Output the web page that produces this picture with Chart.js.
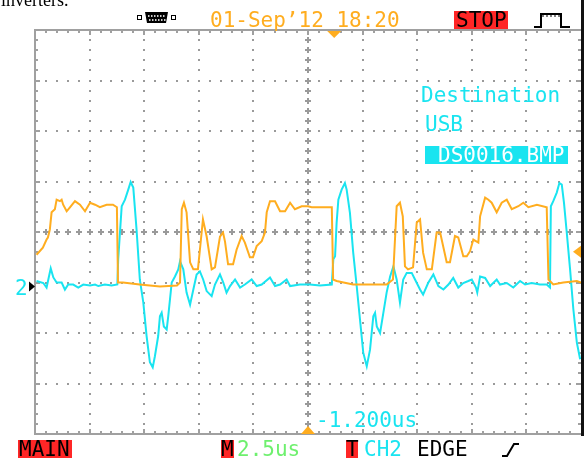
<!DOCTYPE html>
<html>
<head>
<meta charset="utf-8">
<script src="https://cdn.jsdelivr.net/npm/chart.js"></script>
<style>
body { margin: 0; background: #fff; }
#wrap { position: relative; width: 585px; height: 458px; }
</style>
</head>
<body>
<div id="wrap"><canvas id="scope" width="585" height="458"></canvas></div>
<script>
// time in us from screen centre, level in divisions from screen centre
const ch1Time = [
  -12.43,-12.14,-11.97,-11.91,-11.82,-11.74,-11.59,-11.51,-11.36,-11.28,
  -11.21,-11.05,-10.90,-10.67,-10.44,-10.21,-9.98,-9.75,-9.53,-9.22,
  -8.93,-8.75,-8.70,-8.47,-7.71,-6.78,-6.00,-5.86,-5.78,-5.68,
  -5.56,-5.40,-5.25,-5.04,-4.87,-4.81,-4.64,-4.41,-4.26,-4.03,
  -3.89,-3.80,-3.66,-3.43,-3.27,-3.04,-2.89,-2.66,-2.52,-2.35,
  -2.12,-1.97,-1.89,-1.74,-1.51,-1.28,-1.05,-0.82,-0.60,-0.29,
  0,0.17,1.09,1.15,1.31,2.06,2.69,3.60,3.89,4.06,
  4.21,4.34,4.44,4.58,4.81,4.98,5.13,5.27,5.44,5.67,
  5.89,6.05,6.35,6.50,6.73,6.88,7.11,7.27,7.42,7.57,
  7.80,7.88,8.11,8.26,8.41,8.64,8.87,9.10,9.33,9.63,
  9.86,10.09,10.48,10.93,11.01,11.23,11.69,12.31,12.5
];
const ch1Level = [
  -0.45,-0.31,-0.15,-0.11,0.05,0.39,0.45,0.64,0.61,0.64,
  0.54,0.41,0.49,0.61,0.54,0.41,0.58,0.54,0.49,0.54,
  0.54,0.49,-1.0,-1.0,-1.04,-1.08,-1.06,-1.0,0.45,0.58,
  0.39,-0.60,-0.74,-0.74,-0.01,0.25,-0.09,-0.74,-0.70,-0.09,
  -0.01,-0.19,-0.64,-0.64,-0.35,-0.08,-0.21,-0.50,-0.50,-0.28,
  -0.18,-0.01,0.39,0.61,0.61,0.41,0.41,0.58,0.45,0.51,
  0.51,0.49,0.49,-0.94,-0.97,-1.04,-1.04,-1.04,-0.94,0.51,
  0.58,0.31,-0.68,-0.74,-0.70,0.19,0.25,-0.41,-0.74,-0.74,
  -0.01,-0.01,-0.60,-0.60,-0.08,-0.11,-0.48,-0.48,-0.38,-0.15,
  -0.21,0.31,0.68,0.64,0.58,0.39,0.58,0.64,0.45,0.51,
  0.58,0.49,0.54,0.49,-0.94,-1.04,-1.0,-0.97,-1.0
];
const ch2Time = [
  -12.43,-12.12,-11.97,-11.89,-11.78,-11.66,-11.51,-11.28,-11.13,-10.98,
  -10.75,-10.52,-10.29,-9.98,-9.75,-9.60,-9.30,-8.99,-8.73,-8.69,
  -8.53,-8.38,-8.23,-8.12,-8.00,-7.85,-7.70,-7.54,-7.39,-7.24,
  -7.11,-7.01,-6.86,-6.78,-6.70,-6.60,-6.47,-6.40,-6.24,-6.09,
  -5.94,-5.86,-5.71,-5.56,-5.40,-5.25,-5.10,-4.95,-4.80,-4.64,
  -4.41,-4.26,-4.03,-3.88,-3.73,-3.57,-3.34,-3.11,-2.89,-2.58,
  -2.35,-2.12,-1.74,-1.51,-1.28,-0.98,-0.82,-0.37,0.09,0.55,
  1.09,1.16,1.24,1.31,1.39,1.54,1.69,1.77,1.92,2.07,
  2.23,2.38,2.53,2.69,2.84,2.99,3.07,3.15,3.30,3.45,
  3.60,3.76,3.91,4.06,4.21,4.36,4.52,4.75,4.90,5.13,
  5.27,5.50,5.74,5.97,6.20,6.43,6.65,6.88,7.11,7.34,
  7.50,7.69,7.75,7.88,8.11,8.34,8.64,8.79,9.10,9.40,
  9.71,9.94,10.24,10.62,10.93,11.08,11.12,11.23,11.39,11.51,
  11.62,11.72,11.85,12.00,12.15,12.31,12.46
];
const ch2Level = [
  -0.97,-1.01,-1.10,-0.94,-0.72,-0.90,-1.0,-1.0,-1.14,-1.04,
  -1.04,-1.10,-1.04,-1.06,-1.04,-1.07,-1.04,-1.06,-1.04,-0.54,
  0.51,0.64,0.84,0.99,0.88,0.05,-0.94,-1.40,-2.06,-2.58,
  -2.68,-2.46,-2.06,-1.67,-1.60,-1.87,-1.93,-1.67,-1.0,-0.88,
  -0.74,-0.58,-0.74,-1.20,-1.44,-1.14,-0.84,-0.78,-0.94,-1.17,
  -1.27,-1.04,-0.84,-1.0,-1.20,-1.07,-0.94,-1.10,-1.04,-0.94,
  -1.07,-1.04,-0.90,-1.07,-1.04,-0.94,-1.07,-1.04,-1.04,-1.06,
  -1.04,-0.54,-0.48,0.18,0.64,0.84,0.97,0.84,0.38,-0.41,
  -1.07,-1.73,-2.39,-2.66,-2.33,-1.67,-1.60,-1.87,-2.00,-1.60,
  -1.20,-0.88,-0.68,-0.94,-1.40,-0.94,-0.81,-0.81,-0.94,-1.14,
  -1.24,-1.01,-0.84,-1.07,-1.14,-1.04,-0.91,-1.10,-1.01,-0.97,
  -0.94,-1.10,-1.20,-0.88,-0.91,-1.07,-0.94,-1.04,-1.01,-1.10,
  -0.97,-1.04,-1.01,-1.04,-1.04,-1.10,0.51,0.61,0.78,0.97,
  0.94,0.58,-0.02,-0.74,-1.53,-2.19,-2.52
];

const timePerDiv = 2.5;       // us/div
const xDivs = 10, yDivs = 8;
const triggerDelay = -1.2;    // us
const triggerLevel = -0.39;   // div
const ch2Ground = -1.08;      // div

const orange = '#ffad1f';
const cyan = '#19e4f0';
const gridGray = '#9a9a9a';
const red = '#ff2626';
const mono = '21px "DejaVu Sans Mono"';

function zip(t, v) {
  return t.map((tt, i) => ({ x: tt, y: v[i] }));
}

const scopeGrid = {
  id: 'scopeGrid',
  beforeDatasetsDraw(chart) {
    const { ctx, chartArea: a, scales: { x, y } } = chart;
    const xMin = -timePerDiv * xDivs / 2;
    const px = k => Math.round(x.getPixelForValue(xMin + k * timePerDiv / 5));
    const py = k => Math.round(y.getPixelForValue(-yDivs / 2 + k / 5));
    ctx.save();
    ctx.fillStyle = gridGray;
    // dotted division lines
    for (let d = 1; d < xDivs; d++) {
      if (d === xDivs / 2) continue;
      for (let k = 1; k < yDivs * 5; k++) ctx.fillRect(px(d * 5) - 1, py(k) - 1, 2, 2);
    }
    for (let r = 1; r < yDivs; r++) {
      if (r === yDivs / 2) continue;
      for (let k = 1; k < xDivs * 5; k++) ctx.fillRect(px(k) - 1, py(r * 5) - 1, 2, 2);
    }
    // centre lines with crosses
    const cx = px(xDivs * 5 / 2), cy = py(yDivs * 5 / 2);
    const cross = (X, Y) => { ctx.fillRect(X - 3, Y - 1, 6, 2); ctx.fillRect(X - 1, Y - 3, 2, 6); };
    for (let k = 1; k < yDivs * 5; k++) cross(cx, py(k));
    for (let k = 1; k < xDivs * 5; k++) cross(px(k), cy);
    // frame and ruler ticks
    ctx.fillStyle = '#a0a0a0';
    ctx.fillRect(a.left - 1, a.top - 1, a.right - a.left + 1, 2);
    ctx.fillRect(a.left - 1, a.bottom - 1, a.right - a.left + 1, 2);
    ctx.fillRect(a.left - 1, a.top - 1, 2, a.bottom - a.top + 2);
    for (let k = 1; k < xDivs * 5; k++) {
      const len = k % 5 === 0 ? 5 : 3;
      ctx.fillRect(px(k) - 1, a.top, 2, len);
      ctx.fillRect(px(k) - 1, a.bottom - len, 2, len);
    }
    for (let k = 1; k < yDivs * 5; k++) {
      const len = k % 5 === 0 ? 5 : 3;
      ctx.fillRect(a.left, py(k) - 1, len, 2);
      ctx.fillRect(a.right - len, py(k) - 1, len, 2);
    }
    ctx.fillStyle = '#111';
    ctx.fillRect(a.right, 0, 3, a.bottom + 2);
    ctx.restore();
  }
};

function boxText(ctx, txt, x, base, color, bg, bx, bw) {
  if (bg) { ctx.fillStyle = bg; ctx.fillRect(bx, base - 16, bw, 18); }
  ctx.fillStyle = color;
  ctx.fillText(txt, x, base);
}

const scopeLabels = {
  id: 'scopeLabels',
  afterDraw(chart) {
    const { ctx, chartArea: a, scales: { x, y } } = chart;
    ctx.save();
    // markers
    ctx.fillStyle = orange;
    const tx = x.getPixelForValue(-triggerDelay);
    ctx.beginPath(); ctx.moveTo(tx - 7, a.top + 1); ctx.lineTo(tx + 7, a.top + 1); ctx.lineTo(tx, a.top + 8); ctx.fill();
    const c0 = x.getPixelForValue(0);
    ctx.beginPath(); ctx.moveTo(c0 - 7, a.bottom); ctx.lineTo(c0 + 7, a.bottom); ctx.lineTo(c0, a.bottom - 8); ctx.fill();
    const ly = y.getPixelForValue(triggerLevel);
    ctx.beginPath(); ctx.moveTo(a.right, ly - 6); ctx.lineTo(a.right, ly + 6); ctx.lineTo(a.right - 8, ly); ctx.fill();
    const gy = y.getPixelForValue(ch2Ground);
    ctx.fillStyle = '#000';
    ctx.beginPath(); ctx.moveTo(a.left - 6, gy - 5); ctx.lineTo(a.left - 6, gy + 5); ctx.lineTo(a.left, gy); ctx.fill();

    ctx.font = mono;
    ctx.textBaseline = 'alphabetic';
    ctx.fillStyle = cyan;
    ctx.fillText('2', 15, gy + 8);

    // top bar
    ctx.fillStyle = orange;
    ctx.fillText('01-Sep\u201912 18:20', 210, 27);
    boxText(ctx, 'STOP', 456, 27, '#000', red, 454, 54);
    // save message
    ctx.fillStyle = cyan;
    ctx.fillText('Destination', 421, 102);
    ctx.fillText('USB', 425, 131);
    boxText(ctx, 'DS0016.BMP', 438, 162, '#fff', cyan, 425, 143);
    ctx.fillStyle = cyan;
    ctx.fillText('-1.200us', 316, 427);
    // bottom bar
    boxText(ctx, 'MAIN', 19, 456, '#000', red, 18, 54);
    boxText(ctx, 'M', 221, 456, '#000', red, 221, 13);
    ctx.fillStyle = '#6ef06e';
    ctx.fillText('2.5us', 237, 456);
    boxText(ctx, 'T', 346, 456, '#000', red, 346, 12);
    ctx.fillStyle = cyan;
    ctx.fillText('CH2', 364, 456);
    ctx.fillStyle = '#000';
    ctx.fillText('EDGE', 417, 456);

    // "inverters." from the page above the screenshot
    ctx.font = '18px "Liberation Serif"';
    ctx.fillText('inverters.', 1, 6);

    // icons
    ctx.strokeStyle = '#000';
    ctx.lineWidth = 2;
    ctx.beginPath();
    ctx.moveTo(502, 456); ctx.lineTo(507, 456); ctx.lineTo(514, 444); ctx.lineTo(519, 444);
    ctx.stroke();
    ctx.beginPath();
    ctx.moveTo(534, 27); ctx.lineTo(541, 27); ctx.lineTo(541, 14); ctx.lineTo(561, 14); ctx.lineTo(561, 27); ctx.lineTo(570, 27);
    ctx.stroke();
    ctx.lineWidth = 1;
    for (let i = 0; i < 5; i++) { ctx.beginPath(); ctx.moveTo(543 + i * 4, 14); ctx.lineTo(543 + i * 4, 17); ctx.stroke(); }
    // connector icon
    ctx.fillStyle = '#000';
    ctx.fillRect(137, 15, 5, 5);
    ctx.fillRect(171, 15, 5, 5);
    ctx.fillStyle = '#fff';
    ctx.fillRect(138, 16, 3, 3);
    ctx.fillRect(172, 16, 3, 3);
    ctx.fillStyle = '#000';
    ctx.beginPath(); ctx.moveTo(145, 12); ctx.lineTo(168, 12); ctx.lineTo(166, 23); ctx.lineTo(147, 23); ctx.closePath(); ctx.fill();
    ctx.fillStyle = '#ccc';
    for (let i = 0; i < 6; i++) { ctx.fillRect(148 + i * 3, 15, 1.5, 2); ctx.fillRect(149 + i * 3, 19, 1.5, 2); }
    ctx.restore();
  }
};

new Chart(document.getElementById('scope').getContext('2d'), {
  type: 'line',
  data: {
    datasets: [
      { label: 'CH1', data: zip(ch1Time, ch1Level), borderColor: orange, borderWidth: 2, pointRadius: 0, tension: 0 },
      { label: 'CH2', data: zip(ch2Time, ch2Level), borderColor: cyan, borderWidth: 2, pointRadius: 0, tension: 0 }
    ]
  },
  options: {
    responsive: false,
    animation: false,
    layout: { padding: { left: 35, top: 30, right: 4, bottom: 24 } },
    plugins: { legend: { display: false }, tooltip: { enabled: false } },
    scales: {
      x: { type: 'linear', min: -timePerDiv * xDivs / 2, max: timePerDiv * xDivs / 2, display: false },
      y: { min: -yDivs / 2, max: yDivs / 2, display: false }
    }
  },
  plugins: [scopeGrid, scopeLabels]
});
</script>
</body>
</html>
